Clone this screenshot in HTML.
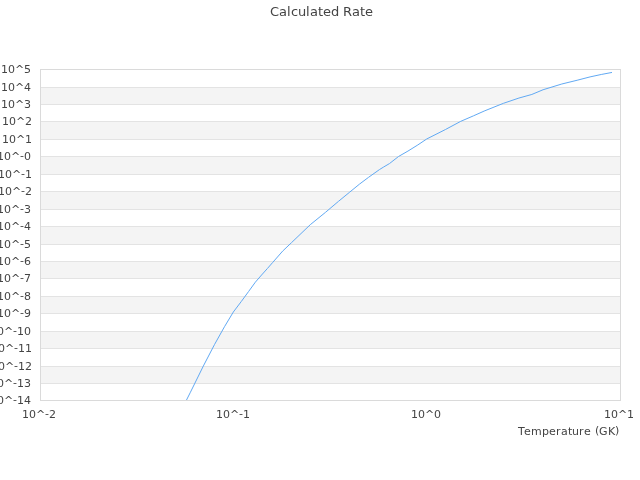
<!DOCTYPE html>
<html><head><meta charset="utf-8"><title>Calculated Rate</title>
<style>
html,body{margin:0;padding:0;background:#fff;width:640px;height:480px;overflow:hidden}
svg{display:block}
text{font-family:"DejaVu Sans","Liberation Sans",sans-serif;fill:#444;font-size:11px;font-kerning:none}
.t{font-size:13px}
.g rect{shape-rendering:crispEdges}
</style></head><body>
<svg width="640" height="480" viewBox="0 0 640 480">
<rect width="640" height="480" fill="#fff"/>
<g class="g">
<rect x="41" y="87" width="579" height="17" fill="#f4f4f4"/>
<rect x="41" y="121" width="579" height="18" fill="#f4f4f4"/>
<rect x="41" y="156" width="579" height="18" fill="#f4f4f4"/>
<rect x="41" y="191" width="579" height="18" fill="#f4f4f4"/>
<rect x="41" y="226" width="579" height="18" fill="#f4f4f4"/>
<rect x="41" y="261" width="579" height="17" fill="#f4f4f4"/>
<rect x="41" y="296" width="579" height="17" fill="#f4f4f4"/>
<rect x="41" y="331" width="579" height="17" fill="#f4f4f4"/>
<rect x="41" y="366" width="579" height="17" fill="#f4f4f4"/>
<rect x="41" y="87" width="579" height="1" fill="#e3e3e3"/>
<rect x="41" y="104" width="579" height="1" fill="#e3e3e3"/>
<rect x="41" y="121" width="579" height="1" fill="#e3e3e3"/>
<rect x="41" y="139" width="579" height="1" fill="#e3e3e3"/>
<rect x="41" y="156" width="579" height="1" fill="#e3e3e3"/>
<rect x="41" y="174" width="579" height="1" fill="#e3e3e3"/>
<rect x="41" y="191" width="579" height="1" fill="#e3e3e3"/>
<rect x="41" y="209" width="579" height="1" fill="#e3e3e3"/>
<rect x="41" y="226" width="579" height="1" fill="#e3e3e3"/>
<rect x="41" y="244" width="579" height="1" fill="#e3e3e3"/>
<rect x="41" y="261" width="579" height="1" fill="#e3e3e3"/>
<rect x="41" y="278" width="579" height="1" fill="#e3e3e3"/>
<rect x="41" y="296" width="579" height="1" fill="#e3e3e3"/>
<rect x="41" y="313" width="579" height="1" fill="#e3e3e3"/>
<rect x="41" y="331" width="579" height="1" fill="#e3e3e3"/>
<rect x="41" y="348" width="579" height="1" fill="#e3e3e3"/>
<rect x="41" y="366" width="579" height="1" fill="#e3e3e3"/>
<rect x="41" y="383" width="579" height="1" fill="#e3e3e3"/>
<rect x="40" y="69" width="581" height="1" fill="#dadada"/>
<rect x="40" y="400" width="581" height="1" fill="#dadada"/>
<rect x="40" y="69" width="1" height="332" fill="#dadada"/>
<rect x="620" y="69" width="1" height="332" fill="#dadada"/>
</g>
<polyline fill="none" stroke="#61a9f3" stroke-width="1" stroke-linejoin="round" points="186.5,400.0 190.44,392.21 203.39,365.94 214.6,344.36 224.49,326.71 233.33,312.0 241.34,301.45 248.64,291.46 255.36,282.17 261.58,274.99 267.38,268.53 272.8,262.34 282.69,251.06 291.53,242.64 310.27,224.7 325.58,212.25 338.52,201.3 349.73,192.12 359.62,184.02 368.47,177.39 379.5,169.55 383.78,166.93 389.5,163.55 398.5,156.5 407.93,151.1 417.82,144.95 426.67,139.0 445.4,129.55 460.71,121.35 473.65,115.75 484.87,110.75 503.6,103.25 518.91,98.05 531.85,94.45 543.06,89.75 561.8,84.0 577.11,80.25 590.05,76.9 601.26,74.47 612.0,72.45"/>
<text class="t" x="270 279 287 291 298 306 310 318 323 331 339 343 352 360 365" y="16">Calculated Rate</text>
<text x="1 8 15 24" y="73">10^5</text>
<text x="1 8 15 24" y="91">10^4</text>
<text x="1 8 15 24" y="108">10^3</text>
<text x="2 9 16 25" y="125">10^2</text>
<text x="2 9 16 25" y="143">10^1</text>
<text x="-3 4 11 20 24" y="160 160 160 159 160">10^-0</text>
<text x="-2 5 12 21 25" y="178 178 178 177 178">10^-1</text>
<text x="-2 5 12 21 25" y="195 195 195 194 195">10^-2</text>
<text x="-3 4 11 20 24" y="213 213 213 212 213">10^-3</text>
<text x="-3 4 11 20 24" y="230 230 230 229 230">10^-4</text>
<text x="-3 4 11 20 24" y="248 248 248 247 248">10^-5</text>
<text x="-3 4 11 20 24" y="265 265 265 264 265">10^-6</text>
<text x="-3 4 11 20 24" y="282 282 282 281 282">10^-7</text>
<text x="-3 4 11 20 24" y="300 300 300 299 300">10^-8</text>
<text x="-3 4 11 20 24" y="317 317 317 316 317">10^-9</text>
<text x="-10 -3 4 13 17 24" y="335 335 335 334 335 335">10^-10</text>
<text x="-9 -2 5 14 18 25" y="352 352 352 351 352 352">10^-11</text>
<text x="-9 -2 5 14 18 25" y="370 370 370 369 370 370">10^-12</text>
<text x="-10 -3 4 13 17 24" y="387 387 387 386 387 387">10^-13</text>
<text x="-10 -3 4 13 17 24" y="404 404 404 403 404 404">10^-14</text>
<text x="22 29 36 45 49" y="418 418 418 417 418">10^-2</text>
<text x="216 223 230 239 243" y="418 418 418 417 418">10^-1</text>
<text x="411 418 425 434" y="418">10^0</text>
<text x="604 611 618 627" y="418">10^1</text>
<text x="518 524 531 542 549 556 561 568 572 579 584 591 595 599 608 615" y="435 435 435 435 435 435 435 435 435 435 435 435 434 435 435 434">Temperature (GK)</text>
</svg>
</body></html>
